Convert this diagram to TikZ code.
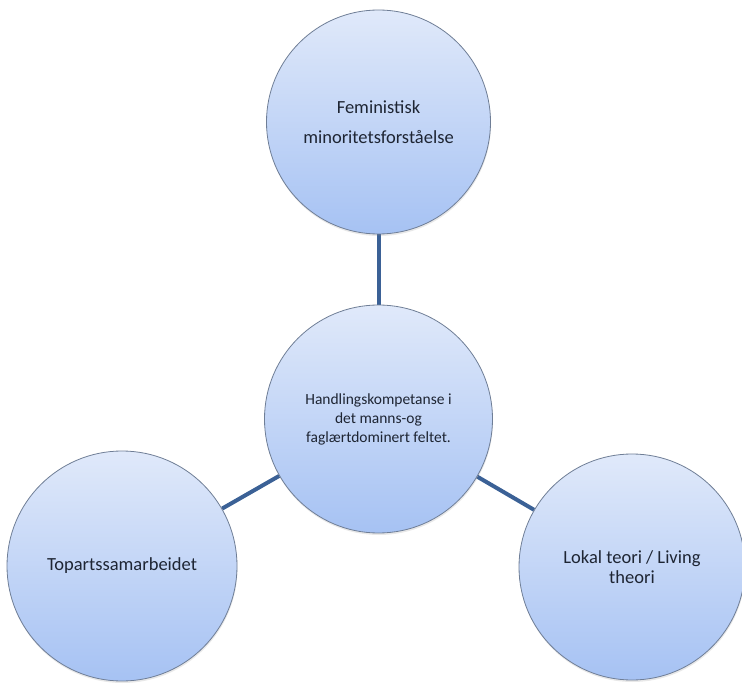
\documentclass[tikz,border=0pt]{standalone}
\usepackage{fontspec}
\setmainfont{Carlito}
\usetikzlibrary{backgrounds,shadows}
\definecolor{circtop}{HTML}{E0E9FA}
\definecolor{circbot}{HTML}{A6C2F3}
\definecolor{circedge}{HTML}{6F7E96}
\definecolor{linkblue}{HTML}{3B6196}
\definecolor{txt}{HTML}{1E2533}
\begin{document}
\begin{tikzpicture}[x=1pt,y=-1pt,
  bubble/.style={circle, draw=circedge, line width=0.8pt, top color=circtop, bottom color=circbot,
    text=txt, align=center, inner sep=0pt,
    drop shadow={opacity=0.18, shadow xshift=0.5pt, shadow yshift=-2pt}},
  link/.style={draw=linkblue, line width=4pt}]
\useasboundingbox (0,0) rectangle (742,684);
\node[bubble, minimum size=224pt, font=\fontsize{18.5}{30}\selectfont] (top) at (378.5,122) {Feministisk\\minoritetsforståelse};
\node[bubble, minimum size=228pt, font=\fontsize{15.5}{19}\selectfont] (mid) at (378.5,419) {Handlingskompetanse i\\det manns-og\\faglærtdominert feltet.};
\node[bubble, minimum size=230pt, font=\fontsize{18.5}{21}\selectfont] (left) at (122,566) {Topartssamarbeidet};
\node[bubble, minimum size=226pt, font=\fontsize{18.5}{20}\selectfont] (right) at (632,567) {Lokal teori / Living\\theori};
\begin{scope}[on background layer]
\draw[link] (top) -- (mid);
\draw[link] (mid) -- (left);
\draw[link] (mid) -- (right);
\end{scope}
\end{tikzpicture}
\end{document}
